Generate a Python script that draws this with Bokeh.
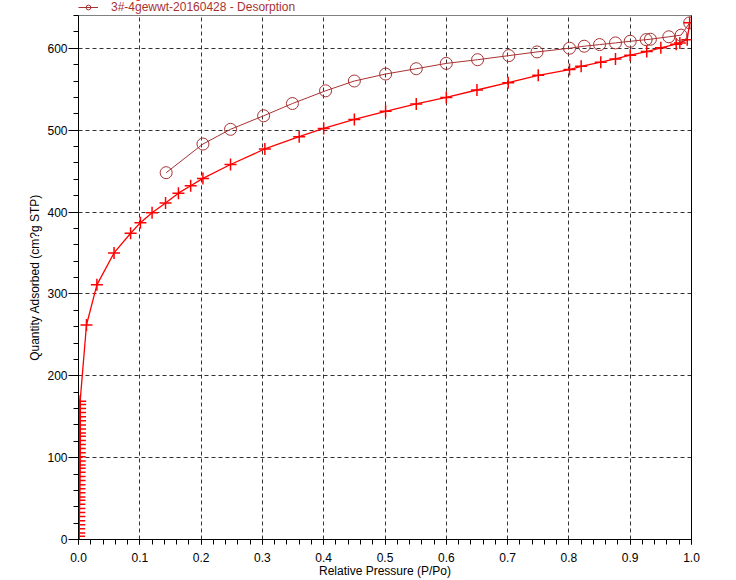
from bokeh.plotting import figure
from bokeh.embed import file_html
from bokeh.resources import INLINE
from bokeh.layouts import column
from bokeh.models import (Legend, LegendItem, LinearAxis, FixedTicker,
                          PrintfTickFormatter, Range1d)

# ---- data ----
ads_p = [0.0010, 0.0011, 0.0011, 0.0012, 0.0012, 0.0013, 0.0013, 0.0014,
         0.0014, 0.0015, 0.0015, 0.0016, 0.0016, 0.0017, 0.0017, 0.0018,
         0.0018, 0.0019, 0.0019, 0.0020, 0.0020, 0.0021, 0.0021, 0.0022,
         0.0022, 0.0023, 0.0023, 0.0024, 0.0024, 0.0025, 0.0025, 0.0026,
         0.0026, 0.0027, 0.0027,
         0.013, 0.030, 0.058, 0.085, 0.101, 0.120, 0.142, 0.163, 0.183,
         0.203, 0.248, 0.304, 0.360, 0.400, 0.450, 0.501, 0.551, 0.600,
         0.650, 0.701, 0.750, 0.801, 0.820, 0.852, 0.876, 0.900, 0.927,
         0.950, 0.975, 0.981, 0.993, 0.997]
ads_q = [4, 8, 13, 18, 23, 28, 33, 38, 43, 48, 52, 57, 62, 67, 72, 77,
         82, 87, 91, 96, 101, 106, 111, 116, 121, 126, 130, 135, 140, 145,
         150, 155, 160, 165, 169,
         262, 311, 350, 374, 387, 399, 411, 423, 432, 441, 458, 477, 492,
         502, 513, 523, 532, 540, 549, 558, 567, 574, 578, 583, 587, 591.5,
         596, 600.5, 605, 606.5, 610.5, 631]

des_p = [0.997, 0.983, 0.963, 0.933, 0.926, 0.900, 0.876, 0.850, 0.825,
         0.801, 0.748, 0.702, 0.651, 0.600, 0.551, 0.501, 0.450, 0.403,
         0.349, 0.302, 0.248, 0.203, 0.143]
des_q = [631, 616, 614, 611, 610.5, 608.5, 606.5, 604.5, 602.5, 600,
         595.5, 591, 586, 581.5, 575, 568.5, 560, 548, 532.5, 517.5, 501,
         483, 448]

x_ticks = [0.0, 0.1, 0.2, 0.3, 0.4, 0.5, 0.6, 0.7, 0.8, 0.9, 1.0]
y_ticks = [0, 100, 200, 300, 400, 500, 600]

ads_label = "3#-4gewwt-20160428 - Adsorption"
des_label = "3#-4gewwt-20160428 - Desorption"
x_label = "Relative Pressure (P/Po)"
y_label = "Quantity Adsorbed (cm?g STP)"

RED = "#FF0000"
BROWN = "#A83232"
FONT = "Liberation Sans"

W = 720
TOP_H = 14
MAIN_H = 566

# ---------------- legend strip (top) ----------------
top = figure(width=W, height=TOP_H, x_range=Range1d(0, 1),
             y_range=Range1d(0, 1), output_backend="svg",
             toolbar_location=None, min_border=0, x_axis_type=None,
             y_axis_type=None)
top.outline_line_color = None
top.background_fill_color = "white"
top.border_fill_color = "white"
# dummy renderers (outside the visible range) used only as legend glyphs
la = top.line(x=[-5, -4], y=[-5, -4], line_color=RED, line_width=1.3)
lp = top.scatter(x=[-5], y=[-5], marker="cross", size=9, line_color=RED,
                 line_width=1.5)
ld = top.line(x=[-5, -4], y=[-5, -4], line_color=BROWN, line_width=1)
lc = top.scatter(x=[-5], y=[-5], marker="circle", size=9, fill_color=None,
                 line_color=BROWN, line_width=1)


def make_legend(label, rends, color, ypos):
    return Legend(items=[LegendItem(label=label, renderers=rends)],
                  location=(0, ypos), orientation="vertical", padding=0,
                  margin=0, spacing=0, border_line_color=None,
                  background_fill_alpha=0, label_text_font=FONT,
                  label_text_font_size="12px", label_text_color=color,
                  glyph_width=20, glyph_height=12, label_height=12,
                  label_standoff=13)


top.add_layout(make_legend(ads_label, [la, lp], RED, 13), "center")
top.add_layout(make_legend(des_label, [ld, lc], BROWN, 0), "center")

# ---------------- main plot ----------------
p = figure(width=W, height=MAIN_H, x_range=Range1d(0, 1.0),
           y_range=Range1d(0, 640), output_backend="svg",
           toolbar_location=None, min_border_left=78, min_border_right=29,
           min_border_top=1, min_border_bottom=40)
p.background_fill_color = "white"
p.border_fill_color = "white"
p.outline_line_color = "#808080"

# adsorption
p.line(ads_p, ads_q, line_color=RED, line_width=1.3)
p.scatter(ads_p, ads_q, marker="cross", size=12, line_color=RED,
          line_width=1.5)
# desorption
p.line(des_p, des_q, line_color=BROWN, line_width=1)
p.scatter(des_p, des_q, marker="circle", size=12, fill_color=None,
          line_color=BROWN, line_width=1)

# axes
minor_x = [i * 0.02 for i in range(51)]
minor_y = [i * 20 for i in range(33)]
p.xaxis.ticker = FixedTicker(ticks=x_ticks, minor_ticks=minor_x)
p.yaxis.ticker = FixedTicker(ticks=y_ticks, minor_ticks=minor_y)
p.xaxis.formatter = PrintfTickFormatter(format="%.1f")
for ax in (p.xaxis, p.yaxis):
    ax.axis_line_color = "black"
    ax.major_tick_line_color = "black"
    ax.minor_tick_line_color = "black"
    ax.major_tick_in = 0
    ax.minor_tick_in = 0
    ax.major_label_text_font = FONT
    ax.major_label_text_font_size = "12px"
    ax.major_label_text_color = "black"
    ax.axis_label_text_font = FONT
    ax.axis_label_text_font_size = "12px"
    ax.axis_label_text_font_style = "normal"
    ax.axis_label_text_color = "black"
p.xaxis.major_tick_out = 5
p.xaxis.minor_tick_out = 5
p.xaxis.major_label_standoff = 8
p.xaxis.axis_label_standoff = -1
p.yaxis.major_tick_out = 10
p.yaxis.minor_tick_out = 5
p.yaxis.major_label_standoff = 1
p.yaxis.axis_label_standoff = 2
p.xaxis.axis_label = x_label
p.yaxis.axis_label = y_label

right = LinearAxis(ticker=FixedTicker(ticks=[]), axis_line_color="black",
                   major_tick_line_color=None, minor_tick_line_color=None)
p.add_layout(right, "right")

# grid
p.xgrid.ticker = FixedTicker(ticks=x_ticks[1:-1])
p.ygrid.ticker = FixedTicker(ticks=y_ticks[1:])
for g in (p.xgrid, p.ygrid):
    g.grid_line_color = "#333333"
    g.grid_line_dash = "4 3"
    g.grid_line_width = 1

layout = column(top, p, spacing=0)
open("out.html", "w").write(file_html(layout, INLINE))
